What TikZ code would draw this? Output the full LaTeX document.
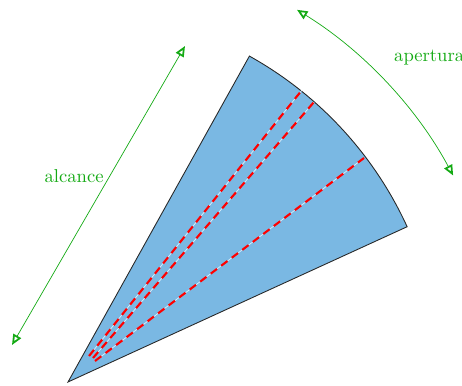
\documentclass[tikz,border=0pt]{standalone}
\usetikzlibrary{arrows.meta}
\definecolor{SectorBlue}{RGB}{122, 184, 227}
\definecolor{EdgeGray}{RGB}{40, 40, 40}
\definecolor{BeamRed}{RGB}{255, 0, 0}
\definecolor{RangeGreen}{RGB}{20, 170, 20}

\begin{document}
\begin{tikzpicture}[x=0.02cm, y=0.02cm, font=\fontsize{10.6}{12}\selectfont, >={Triangle[open, length=6pt, width=5pt, line width=1pt]}]
\useasboundingbox (0,0) rectangle (462,385);
\coordinate (apex) at (68,3);
\filldraw[fill=SectorBlue, draw=EdgeGray, line width=0.5pt] (apex) -- ++(60.9:373) arc[start angle=60.9, end angle=24.6, radius=373] -- cycle;
\foreach \xa/\ya/\xb/\yb in {89/29/302/295, 93/27/314/283, 95/24/364/227} {
  \draw[white!75!SectorBlue, line width=0.4pt] (\xa,\ya) -- (\xb,\yb);
  \draw[BeamRed, line width=1.2pt, dash pattern=on 4.5pt off 3pt] (\xa,\ya) -- (\xb,\yb);
}
% alcance
\coordinate (al1) at (12,40); \coordinate (al2) at (185,339);
\draw[RangeGreen, line width=0.4pt, <->] (al1) -- node[pos=0.565, left, text=RangeGreen] (alcance) {alcance} (al2);
% apertura
\coordinate (ap1) at ([shift={(58.4:437)}]apex);
\draw[RangeGreen, line width=0.4pt, <->] (ap1) arc[start angle=58.4, end angle=28.2, radius=437];
\node[anchor=west, text=RangeGreen] (apertura) at (388,327) {apertura};
\end{tikzpicture}
\end{document}
